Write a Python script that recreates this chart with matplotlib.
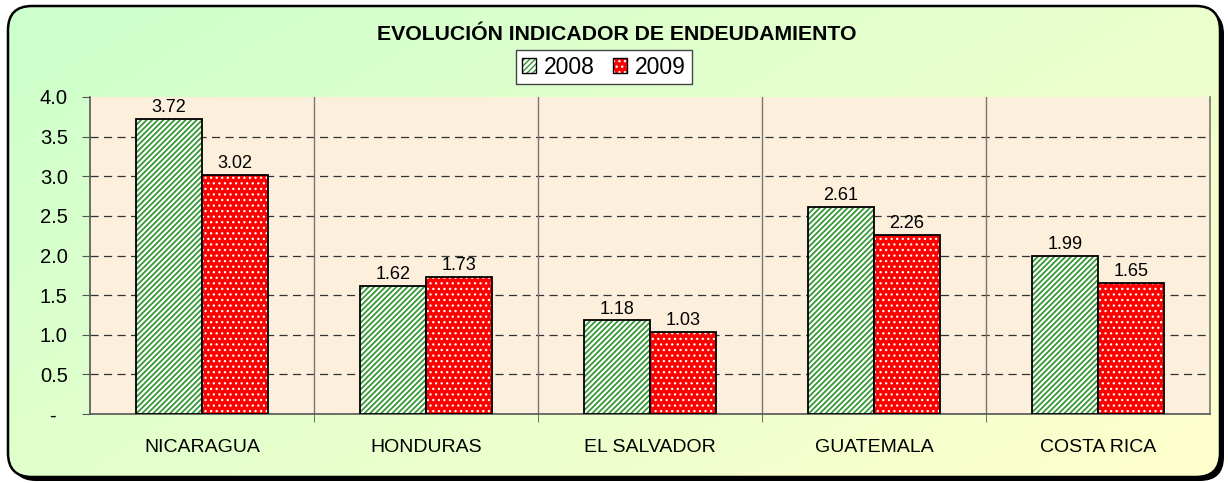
import matplotlib.pyplot as plt
import numpy as np
from matplotlib.patches import FancyBboxPatch, Patch

# datos del grafico
paises = ['NICARAGUA', 'HONDURAS', 'EL SALVADOR', 'GUATEMALA', 'COSTA RICA']
v2008 = [3.72, 1.62, 1.18, 2.61, 1.99]
v2009 = [3.02, 1.73, 1.03, 2.26, 1.65]
yticks = [0, 0.5, 1.0, 1.5, 2.0, 2.5, 3.0, 3.5, 4.0]
ylabels = ['-  ', '0.5', '1.0', '1.5', '2.0', '2.5', '3.0', '3.5', '4.0']

plt.rcParams['font.family'] = ['Liberation Sans', 'DejaVu Sans']

W, H = 1228, 483
fig = plt.figure(figsize=(W / 100, H / 100), dpi=100)
fig.patch.set_facecolor('white')

# fondo con borde redondeado y sombra
bg = fig.add_axes([0, 0, 1, 1])
bg.set_xlim(0, W)
bg.set_ylim(0, H)
bg.axis('off')
shadow = FancyBboxPatch((12, 2), 1212, 471, boxstyle='round,pad=0,rounding_size=24',
                        fc='black', ec='none', zorder=0)
bg.add_patch(shadow)
clip = FancyBboxPatch((8, 6), 1212, 471, boxstyle='round,pad=0,rounding_size=24',
                      fc='none', ec='none', zorder=1)
bg.add_patch(clip)
gx, gy = np.meshgrid(np.linspace(0, 1, 200), np.linspace(0, 1, 100))
t = 0.6 * gx + 0.4 * gy
c0 = np.array([0.80, 1.0, 0.80])
c1 = np.array([1.0, 1.0, 0.80])
grad = c0[None, None, :] * (1 - t[..., None]) + c1[None, None, :] * t[..., None]
im = bg.imshow(grad, extent=(8, 1220, 6, 477), origin='upper', aspect='auto', zorder=1)
im.set_clip_path(clip)
border = FancyBboxPatch((8, 6), 1212, 471, boxstyle='round,pad=0,rounding_size=24',
                        fc='none', ec='black', lw=1.8, zorder=2)
bg.add_patch(border)

# area de grafico
ax = fig.add_axes([90 / W, 69 / H, 1120 / W, 317 / H])
ax.set_facecolor('#FCEFDB')
ax.set_xlim(-0.5, 4.5)
ax.set_ylim(0, 4)

x = np.arange(len(paises))
w = 0.295
verde = '#2F962F'
rojo = '#FF0000'

with plt.rc_context({'hatch.linewidth': 1.25}):
    ax.bar(x - w / 2, v2008, w, color='white', edgecolor=verde, hatch='//////', lw=0, zorder=3)
    h1a = Patch(facecolor='white', edgecolor=verde, hatch='//////', lw=0)
with plt.rc_context({'hatch.linewidth': 0.9}):
    ax.bar(x + w / 2, v2009, w, color=rojo, edgecolor='white', hatch='...', lw=0, zorder=3)
    h2a = Patch(facecolor=rojo, edgecolor='white', hatch='...', lw=0)
ax.bar(x - w / 2, v2008, w, fill=False, edgecolor='black', lw=1.3, zorder=4)
ax.bar(x + w / 2, v2009, w, fill=False, edgecolor='black', lw=1.3, zorder=4)

for xi, a, b in zip(x, v2008, v2009):
    ax.annotate(f'{a:.2f}', (xi - w / 2, a), xytext=(0, 5), textcoords='offset points',
                ha='center', va='baseline', fontsize=13)
    ax.annotate(f'{b:.2f}', (xi + w / 2, b), xytext=(0, 5), textcoords='offset points',
                ha='center', va='baseline', fontsize=13)

for yv in yticks[1:-1]:
    ax.axhline(yv, color='#333333', lw=0.9, ls=(0, (6.5, 4.3)), zorder=1)
for xb in [0.5, 1.5, 2.5, 3.5]:
    ax.axvline(xb, color='#777777', lw=1, zorder=1)

ax.spines['top'].set_visible(False)
ax.spines['left'].set_color('#555555')
ax.spines['bottom'].set_color('#555555')
ax.spines['right'].set_color('#777777')
for s in ['left', 'bottom', 'right']:
    ax.spines[s].set_linewidth(1.2)

ax.set_yticks(yticks)
ax.set_yticklabels(ylabels)
ax.tick_params(axis='y', direction='out', length=6, color='#555555', labelsize=14.5, pad=10)
ax.set_xticks(x)
ax.set_xticklabels(paises)
ax.tick_params(axis='x', which='major', length=0, labelsize=14, pad=18)
ax.set_xticks([0.5, 1.5, 2.5, 3.5], minor=True)
ax.tick_params(axis='x', which='minor', direction='out', length=6, color='#555555')

fig.text(617 / W, 1 - 35 / H, 'EVOLUCIÓN INDICADOR DE ENDEUDAMIENTO',
         ha='center', va='center', fontsize=15.3, fontweight='bold')

h1 = (h1a, Patch(fill=False, edgecolor='black', lw=1))
h2 = (h2a, Patch(fill=False, edgecolor='black', lw=1))
leg = fig.legend([h1, h2], ['2008', '2009'], loc='center',
                 bbox_to_anchor=(604 / W, 1 - 67 / H), ncol=2, frameon=True,
                 fancybox=False, edgecolor='#444444', framealpha=1, fontsize=16.5,
                 handlelength=0.6, handleheight=0.6, handletextpad=0.35,
                 columnspacing=0.8, borderpad=0.25)
leg.get_frame().set_linewidth(1)

fig.savefig('out.png', dpi=100)
